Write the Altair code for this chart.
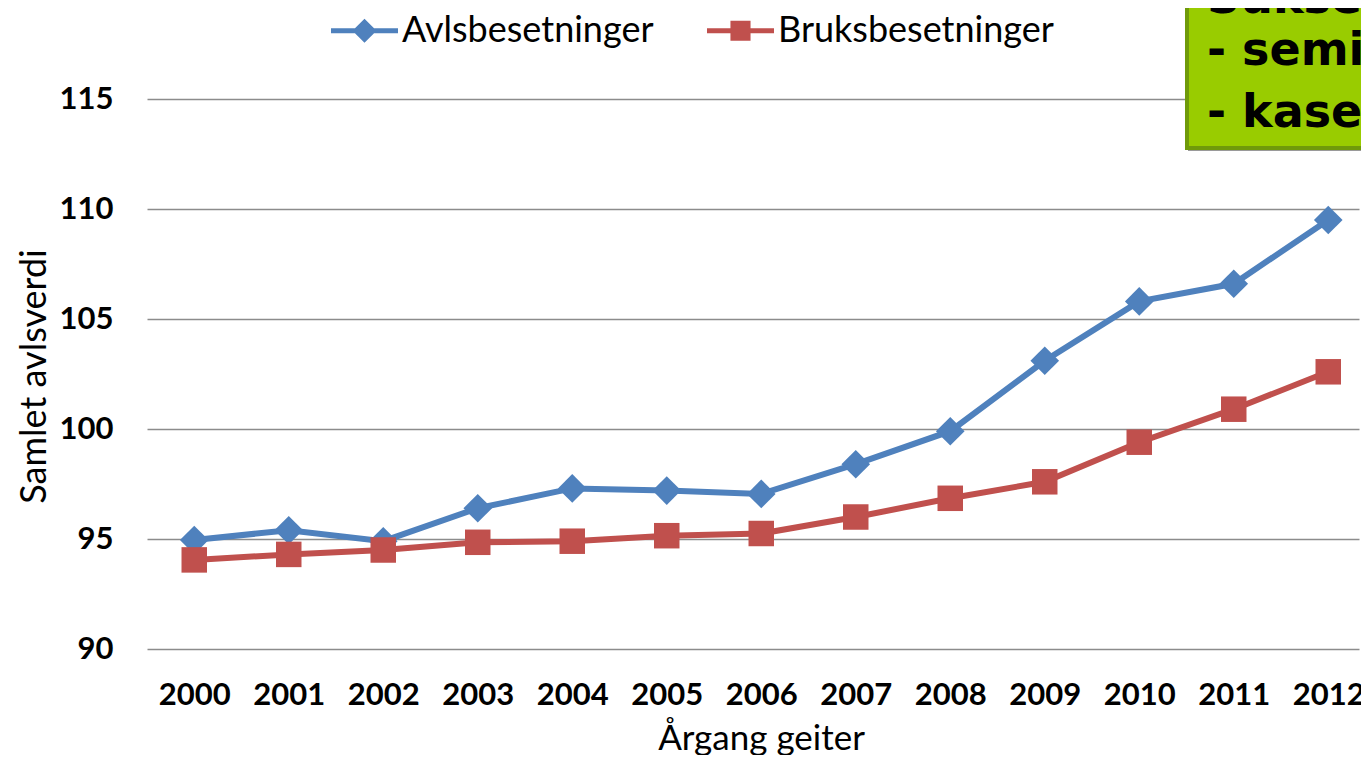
import altair as alt
import pandas as pd

years = list(range(2000, 2013))
avls = [94.95, 95.4, 94.9, 96.4, 97.3, 97.2, 97.05, 98.4, 99.9, 103.1, 105.8, 106.6, 109.5]
bruks = [94.05, 94.3, 94.5, 94.85, 94.9, 95.15, 95.25, 96.0, 96.85, 97.6, 99.4, 100.9, 102.6]
series_names = ["Avlsbesetninger", "Bruksbesetninger"]
colors = ["#4F81BD", "#C0504D"]
y_ticks = [90, 95, 100, 105, 110, 115]
box_lines = ["Sukse", "- semi", "- kase"]

df = pd.DataFrame({
    "year": years * 2,
    "value": avls + bruks,
    "series": [series_names[0]] * len(years) + [series_names[1]] * len(years),
})
box_df = pd.DataFrame({"line": box_lines, "i": [0, 1, 2]})

W, H = 1212, 550
x_scale = alt.Scale(domain=[1999.5, 1999.5 + W / 94.5], nice=False, zero=False)
y_scale = alt.Scale(domain=[90, 115], nice=False, zero=False)
color_scale = alt.Scale(domain=series_names, range=colors)

x_enc = alt.X("year:Q", scale=x_scale, axis=alt.Axis(
    values=years, format="d", grid=False, domain=False, ticks=False,
    labelFont="Lato", labelFontWeight="bold", labelFontSize=31, labelColor="black",
    labelPadding=31, labelFlush=False,
    title="Årgang geiter", titleFont="Lato", titleFontWeight="normal", titleFontSize=35,
    titleColor="black", titleX=614, titleY=100, titleAlign="center", titleBaseline="alphabetic"))
y_enc = alt.Y("value:Q", scale=y_scale, axis=alt.Axis(
    values=y_ticks, grid=True, gridColor="#8c8c8c", gridWidth=1.5, domain=False, ticks=False,
    labelFont="Lato", labelFontWeight="bold", labelFontSize=31, labelColor="black",
    labelPadding=34,
    title="Samlet avlsverdi", titleFont="Lato", titleFontWeight="normal", titleFontSize=36,
    titleColor="black", titleX=-113, titleY=277, titleAngle=-90, titleAlign="center",
    titleBaseline="middle"))

base = alt.Chart(df)

diamond_path = "M-1,-0.075L1,-0.075L1,0.075L-1,0.075Z M0,-0.36L0.36,0L0,0.36L-0.36,0Z"
square_path = "M-1,-0.075L1,-0.075L1,0.075L-1,0.075Z M-0.3,-0.3L0.3,-0.3L0.3,0.3L-0.3,0.3Z"

leg = alt.Legend(
    orient="none", legendX=184, legendY=-102, direction="horizontal", title=None,
    symbolSize=4489, labelFont="Lato", labelFontSize=36, labelColor="black",
    labelOffset=4, labelLimit=0, columnPadding=53, symbolStrokeWidth=0)

legend_layer = base.mark_point(filled=True, opacity=1).encode(
    x=x_enc, y=y_enc,
    color=alt.Color("series:N", scale=color_scale, title=None, legend=leg),
    shape=alt.Shape("series:N", scale=alt.Scale(domain=series_names, range=[diamond_path, square_path]),
                    title=None, legend=leg),
    size=alt.value(0))

layers = [legend_layer]
for name, col in zip(series_names, colors):
    sub = base.transform_filter(alt.datum.series == name)
    layers.append(sub.mark_line(strokeWidth=6, color=col).encode(x=x_enc, y=y_enc))
for name, col, shp, sz in zip(series_names, colors, ["diamond", "square"], [820, 650]):
    sub = base.transform_filter(alt.datum.series == name)
    layers.append(sub.mark_point(filled=True, opacity=1, shape=shp, size=sz, color=col)
                  .encode(x=x_enc, y=y_enc))

# annotation box (top right), partially outside the frame
shadow = alt.Chart(box_df).mark_rect(color="#9a9a9a", clip=False).encode(
    x=alt.value(1041), x2=alt.value(1400), y=alt.value(-150), y2=alt.value(52))
box = alt.Chart(box_df).mark_rect(fill="#99CC00", stroke="#6F9A0A", strokeWidth=4, clip=False).encode(
    x=alt.value(1040), x2=alt.value(1400), y=alt.value(-150), y2=alt.value(49))
layers += [shadow, box]
for i, ypos in zip([0, 1, 2], [-86, -34, 28]):
    layers.append(alt.Chart(box_df).transform_filter(alt.datum.i == i).mark_text(
        font="DejaVu Sans", fontWeight="bold", fontSize=46, color="black",
        align="left", baseline="alphabetic", clip=False).encode(
        x=alt.value(1060), y=alt.value(ypos), text="line:N"))

chart = alt.layer(*layers).properties(
    width=W, height=H,
    autosize=alt.AutoSizeParams(type="none"),
    padding={"left": 139, "top": 91, "right": 2, "bottom": 106},
).configure_view(stroke=None)

chart.save("out.html", embed_options={"renderer": "svg", "actions": False})
